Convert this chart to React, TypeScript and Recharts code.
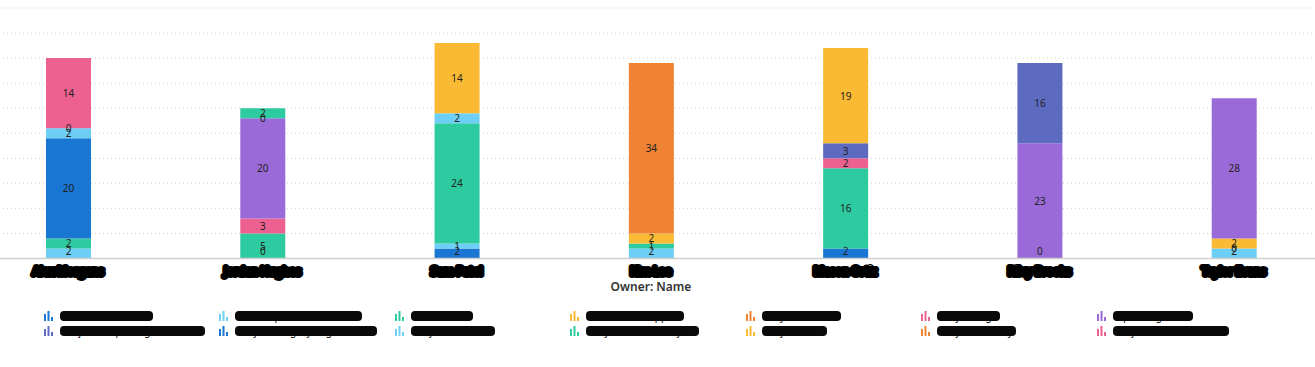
import { BarChart, Bar, XAxis, YAxis, CartesianGrid, LabelList, Label } from "recharts";

const categories = ["Alex Morgans", "Jordan Hughes", "Sam Patel", "Kim Lee", "Mason Ortiz", "Riley Brooks", "Taylor Evans"];

const seriesNames = [
  "Platform - Tools 22", "Core Capabilities Team 22", "Misc Wrk 22", "Production Support",
  "Project WITS 22", "Proj Change", "Ops Integration", "Project - Reporting and ML 22",
  "Project - Legacy Migration 22", "Project - Records", "Project - Mobile Pay 22", "Proj - BTP 22",
  "Project Security", "Project HR Modernis 22",
];

const seriesColors = [
  "#1976D2", "#6DCFF6", "#2DCB9F", "#FBBA33", "#F08234", "#EC6190", "#9A6AD8", "#5C6BC0",
  "#1976D2", "#6DCFF6", "#2DCB9F", "#FBBA33", "#F08234", "#EC6190",
];

// one row per series, one value per owner (null = no segment)
const seriesValues: (number | null)[][] = [
  [null, 0, 2, null, 2, 0, null],
  [2, null, 1, 2, null, null, 2],
  [2, 5, 24, 1, 16, null, 0],
  [null, null, null, 2, null, null, 2],
  [null, null, null, 34, null, null, null],
  [null, 3, null, null, 2, null, null],
  [null, 20, null, null, null, 23, 28],
  [null, null, null, null, 3, 16, null],
  [20, 0, null, null, null, null, null],
  [2, null, 2, null, null, null, null],
  [null, 2, null, null, null, null, null],
  [null, null, 14, null, 19, null, null],
  [0, null, null, null, null, null, null],
  [14, null, null, null, null, null, null],
];

const yTicks = [0, 5, 10, 15, 20, 25, 30, 35, 40, 45, 50];

const rows = categories.map((name, i) => {
  const row: Record<string, string | number | null> = { name };
  seriesValues.forEach((vals, s) => { row[`s${s}`] = vals[i]; });
  return row;
});

const FONT = "'Noto Sans', 'Open Sans', sans-serif";

function SegmentLabel(props: any) {
  const vb = props.viewBox ?? props;
  const { value } = props;
  if (value === null || value === undefined) return null;
  const cx = vb.x + vb.width / 2;
  const cy = Math.min(vb.y + vb.height / 2, 251);
  return (
    <text x={cx} y={cy} textAnchor="middle" dominantBaseline="central" fontSize={10} fill="#222" fontFamily={FONT}>
      {value}
    </text>
  );
}

function OwnerTick({ x, y, payload }: any) {
  return (
    <text x={x} y={y + 8} textAnchor="middle" fontSize={11} fill="#000" stroke="#000" strokeWidth={6}
      strokeLinejoin="round" fontFamily={FONT}>
      {payload.value}
    </text>
  );
}

function BarIcon({ color }: { color: string }) {
  return (
    <svg width={10} height={10} style={{ flex: "none" }}>
      <rect x={0} y={3} width={2} height={7} fill={color} />
      <rect x={3.5} y={0} width={2} height={10} fill={color} />
      <rect x={7} y={6} width={2} height={4} fill={color} />
    </svg>
  );
}

// keep zero-valued segments alive (invisible) so their "0" labels still show
const keepZero = (s: number) => (_v: unknown, i: number) => (seriesValues[s][i] === 0 ? 0.01 : 0);

export default function App() {
  return (
    <div style={{ position: "fixed", left: 0, top: 0, width: 1315, height: 367, overflow: "hidden", background: "#fff" }}>
      <div style={{ position: "absolute", left: -29, top: 0 }}>
        <BarChart width={1360} height={300} data={rows} margin={{ top: 8, right: 0, left: 0, bottom: 0 }} barSize={45}>
          <CartesianGrid vertical={false} strokeDasharray="1 3" stroke="#d4d4d4" />
          <YAxis hide domain={[0, 50]} ticks={yTicks} />
          <XAxis dataKey="name" height={41.5} axisLine={{ stroke: "#cfcfcf", strokeWidth: 1.5 }} tickLine={false}
            tick={<OwnerTick />} interval={0}>
            <Label value="Owner: Name" position="insideBottom" offset={9} fill="#333" fontSize={12}
              fontWeight={600} fontFamily={FONT} />
          </XAxis>
          <XAxis xAxisId="labels" dataKey="name" hide />
          {seriesValues.map((_, s) => (
            <Bar key={s} dataKey={`s${s}`} stackId="owner" fill={seriesColors[s]} isAnimationActive={false} />
          ))}
          {/* same stacks again, transparent, so every value label sits above all segments */}
          {seriesValues.map((_, s) => (
            <Bar key={`l${s}`} xAxisId="labels" dataKey={`s${s}`} stackId="labels" fill="transparent"
              isAnimationActive={false} minPointSize={keepZero(s) as any} legendType="none">
              <LabelList dataKey={`s${s}`} content={<SegmentLabel />} />
            </Bar>
          ))}
        </BarChart>
      </div>
      <div style={{ position: "absolute", left: 43.5, top: 308.5, display: "grid",
        gridTemplateColumns: "repeat(7, 175.5px)", gridAutoRows: "15px", fontFamily: FONT }}>
        {seriesNames.map((n, s) => (
          <div key={s} style={{ display: "flex", alignItems: "center" }}>
            <BarIcon color={seriesColors[s]} />
            <span style={{ marginLeft: 6, fontSize: 10, lineHeight: "10px", padding: "0 3px", borderRadius: 4,
              background: "#0a0a0a", color: "#0a0a0a", whiteSpace: "nowrap" }}>{n}</span>
          </div>
        ))}
      </div>
    </div>
  );
}
